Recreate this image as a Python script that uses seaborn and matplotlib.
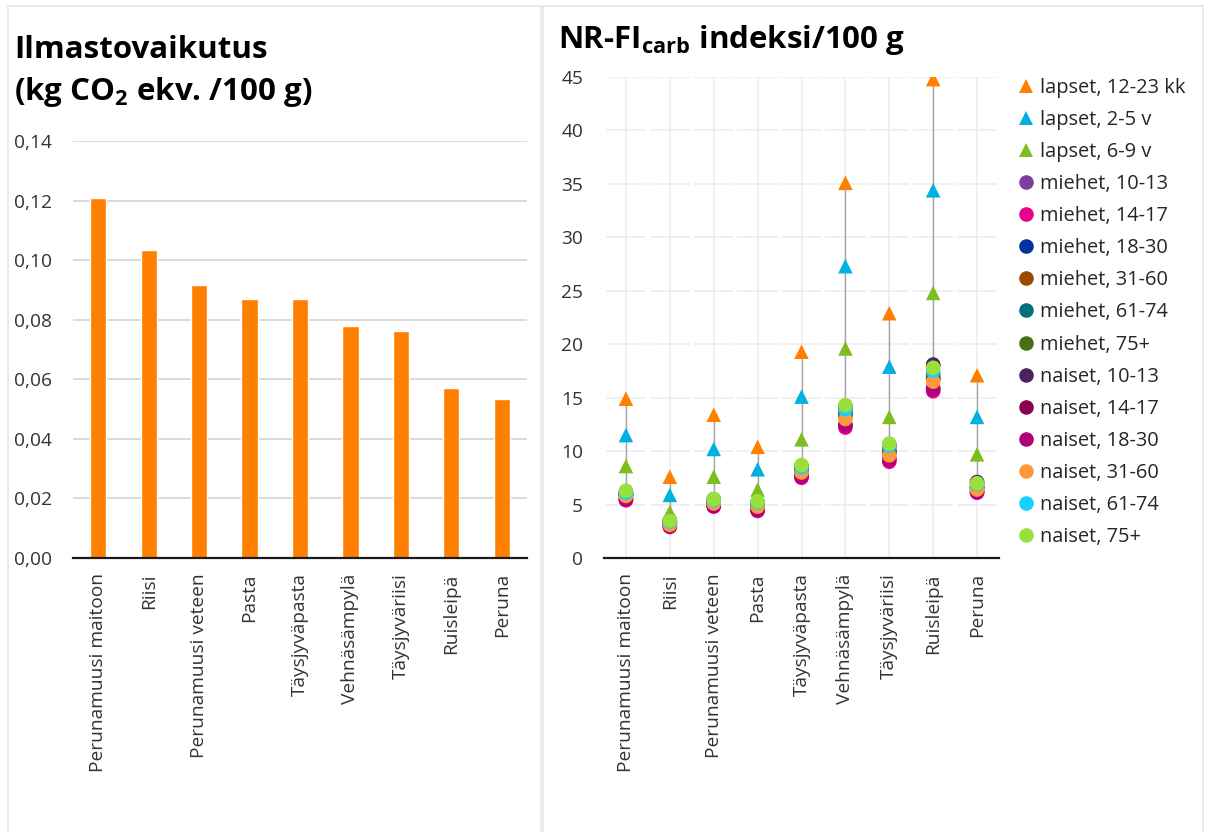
import matplotlib
matplotlib.use("Agg")
import matplotlib.pyplot as plt
from matplotlib.lines import Line2D
from matplotlib.patches import Rectangle
from matplotlib.ticker import FuncFormatter
import numpy as np
import pandas as pd
import seaborn as sns

# ---- data -------------------------------------------------------------
foods = ["Perunamuusi maitoon", "Riisi", "Perunamuusi veteen", "Pasta",
         "Täysjyväpasta", "Vehnäsämpylä", "Täysjyväriisi", "Ruisleipä", "Peruna"]

climate = [0.1207, 0.1033, 0.0918, 0.0868, 0.0869, 0.0778, 0.0762, 0.0570, 0.0533]

groups = ["lapset, 12-23 kk", "lapset, 2-5 v", "lapset, 6-9 v",
          "miehet, 10-13", "miehet, 14-17", "miehet, 18-30", "miehet, 31-60",
          "miehet, 61-74", "miehet, 75+",
          "naiset, 10-13", "naiset, 14-17", "naiset, 18-30", "naiset, 31-60",
          "naiset, 61-74", "naiset, 75+"]

lapset_12_23kk = [14.9, 7.6, 13.4, 10.4, 19.3, 35.1, 22.9, 44.8, 17.1]
lapset_2_5v = [11.5, 5.9, 10.2, 8.3, 15.1, 27.3, 17.9, 34.4, 13.2]
lapset_6_9v = [8.6, 4.3, 7.6, 6.4, 11.1, 19.6, 13.2, 24.8, 9.7]
miehet_10_13 = [6.1, 3.4, 5.3, 5.1, 8.5, 13.9, 10.5, 18.0, 7.1]
miehet_14_17 = [5.4, 2.9, 4.8, 4.4, 7.5, 12.2, 9.0, 15.6, 6.1]
miehet_18_30 = [5.9, 3.3, 5.2, 4.9, 8.2, 13.5, 10.0, 16.9, 6.6]
miehet_31_60 = [5.8, 3.2, 5.1, 4.8, 8.1, 13.2, 9.8, 16.7, 6.5]
miehet_61_74 = [5.9, 3.2, 5.2, 4.9, 8.2, 13.4, 9.9, 16.8, 6.6]
miehet_75 = [6.0, 3.3, 5.3, 5.0, 8.3, 13.7, 10.2, 17.2, 6.8]
naiset_10_13 = [6.2, 3.5, 5.5, 5.2, 8.6, 14.2, 10.6, 18.1, 7.1]
naiset_14_17 = [5.5, 3.0, 4.9, 4.5, 7.7, 12.5, 9.3, 15.9, 6.2]
naiset_18_30 = [5.5, 3.0, 4.9, 4.5, 7.6, 12.4, 9.2, 15.8, 6.2]
naiset_31_60 = [5.8, 3.1, 5.1, 4.8, 8.0, 13.0, 9.6, 16.5, 6.4]
naiset_61_74 = [6.1, 3.4, 5.4, 5.2, 8.5, 13.9, 10.5, 17.5, 6.9]
naiset_75 = [6.3, 3.5, 5.5, 5.3, 8.7, 14.3, 10.7, 17.8, 7.0]

index_values = [lapset_12_23kk, lapset_2_5v, lapset_6_9v,
                miehet_10_13, miehet_14_17, miehet_18_30, miehet_31_60,
                miehet_61_74, miehet_75,
                naiset_10_13, naiset_14_17, naiset_18_30, naiset_31_60,
                naiset_61_74, naiset_75]

group_colors = ["#FF8000", "#00B0E0", "#7DBE1E",
                "#7B3F9E", "#E8008C", "#0033A0", "#994C00", "#00707F", "#4A7017",
                "#4B2361", "#8B0052", "#B0007A", "#FF9A3C", "#1AD0FF", "#99E03C"]
group_markers = ["^", "^", "^"] + ["o"] * 12

# ---- style -----------------------------------------------------------
sns.set_theme(style="white")
plt.rcParams["font.family"] = ["Open Sans", "DejaVu Sans"]
plt.rcParams["mathtext.fontset"] = "custom"
plt.rcParams["mathtext.rm"] = "Open Sans"
plt.rcParams["mathtext.bf"] = "Open Sans:bold"

W, H = 1206, 832
fig = plt.figure(figsize=(W / 100, H / 100), dpi=100)
fig.patch.set_facecolor("white")


def box(x0, y0, x1, y1):
    return [x0 / W, 1 - y1 / H, (x1 - x0) / W, (y1 - y0) / H]


# panel frames
for x0, x1 in [(8, 541), (543, 1203)]:
    fig.patches.append(Rectangle((x0 / W, -0.05), (x1 - x0) / W, 1.05 - 6 / H,
                                 transform=fig.transFigure, fill=False,
                                 edgecolor="#e6e6e6", linewidth=1.2))

tick_color = "#333333"
spine_color = "#1a1a1a"
tick_size = 13.8

# ---- left: bar chart --------------------------------------------------
ax1 = fig.add_axes(box(73, 141, 527, 558))
bars = pd.DataFrame({"food": foods, "value": climate})
sns.barplot(data=bars, x="food", y="value", color="#FF8000", saturation=1,
            width=0.32, ax=ax1, zorder=3)
ax1.set_ylim(0, 0.14)
ax1.set_xlim(-0.5, len(foods) - 0.5)
ax1.set_yticks(np.arange(0, 0.141, 0.02))
ax1.yaxis.set_major_formatter(FuncFormatter(lambda v, p: f"{v:.2f}".replace(".", ",")))
ax1.grid(axis="y", color="#d9d9d9", linewidth=1.4, zorder=0)
ax1.set_axisbelow(True)
ax1.set_xlabel("")
ax1.set_ylabel("")

# ---- right: index points -----------------------------------------------
ax2 = fig.add_axes(box(604, 77, 999, 558))
rows = []
for g, vals in zip(groups, index_values):
    for f, v in zip(foods, vals):
        rows.append({"food": f, "group": g, "value": v})
pts = pd.DataFrame(rows)
pts["x"] = pts["food"].map({f: i for i, f in enumerate(foods)})

# high-low connectors
span = pts.groupby("x")["value"].agg(["min", "max"])
ax2.vlines(span.index, span["min"], span["max"], color="#a6a6a6",
           linewidth=1.0, zorder=2)

sns.scatterplot(data=pts, x="x", y="value", hue="group", style="group",
                hue_order=groups, style_order=groups,
                palette=dict(zip(groups, group_colors)),
                markers=dict(zip(groups, group_markers)),
                s=110, linewidth=0, legend=False, ax=ax2, zorder=3)

ax2.set_xlim(-0.5, len(foods) - 0.5)
ax2.set_ylim(0, 45)
ax2.set_yticks(np.arange(0, 46, 5))
ax2.set_xticks(range(len(foods)))
ax2.set_xticklabels(foods)
# segmented horizontal grid, vertical grid at category centres
for yv in np.arange(5, 46, 5):
    ax2.hlines([yv] * len(foods), np.arange(len(foods)) - 0.46,
               np.arange(len(foods)) + 0.46, color="#ededed", linewidth=1.2, zorder=0)
ax2.vlines(range(len(foods)), 0, 45, color="#ededed", linewidth=1.2, zorder=0)
ax2.set_xlabel("")
ax2.set_ylabel("")

for ax in (ax1, ax2):
    for s in ("top", "right", "left"):
        ax.spines[s].set_visible(False)
    ax.spines["bottom"].set_color(spine_color)
    ax.spines["bottom"].set_linewidth(1.6)
    ax.spines["bottom"].set_zorder(5)
    ax.tick_params(axis="x", which="both", direction="out", length=6, width=1.4,
                   color=spine_color, labelsize=tick_size, labelcolor=tick_color,
                   rotation=90, pad=5)
    ax.tick_params(axis="y", length=0, labelsize=tick_size, labelcolor=tick_color, pad=15)
    ax.set_xticks([len(foods) - 0.5], minor=True)
    for lab in ax.get_xticklabels():
        lab.set_rotation(90)
        lab.set_va("top")
        lab.set_ha("center")

# legend
handles = [Line2D([0], [0], marker=m, color="none", markerfacecolor=c,
                  markeredgewidth=0, markersize=10.5)
           for m, c in zip(group_markers, group_colors)]
ax2.legend(handles, groups, loc="upper left", bbox_to_anchor=(1.0, 1.04),
           frameon=False, fontsize=14.4, handlelength=0.7, handletextpad=0.35,
           labelspacing=0.605, borderaxespad=0.6, labelcolor="#262626")

# titles
title_size = 22.5
fig.text(14 / W, 1 - 58 / H, "Ilmastovaikutus", fontsize=title_size, fontweight="bold",
         color="black", va="baseline", ha="left")
fig.text(14 / W, 1 - 100 / H, r"(kg CO$_\mathbf{2}$ ekv. /100 g)", fontsize=title_size,
         fontweight="bold", color="black", va="baseline", ha="left")
fig.text(558 / W, 1 - 48 / H, r"NR-FI$_\mathbf{carb}$ indeksi/100 g", fontsize=title_size,
         fontweight="bold", color="black", va="baseline", ha="left")

fig.savefig("out.png", dpi=100, facecolor="white")
